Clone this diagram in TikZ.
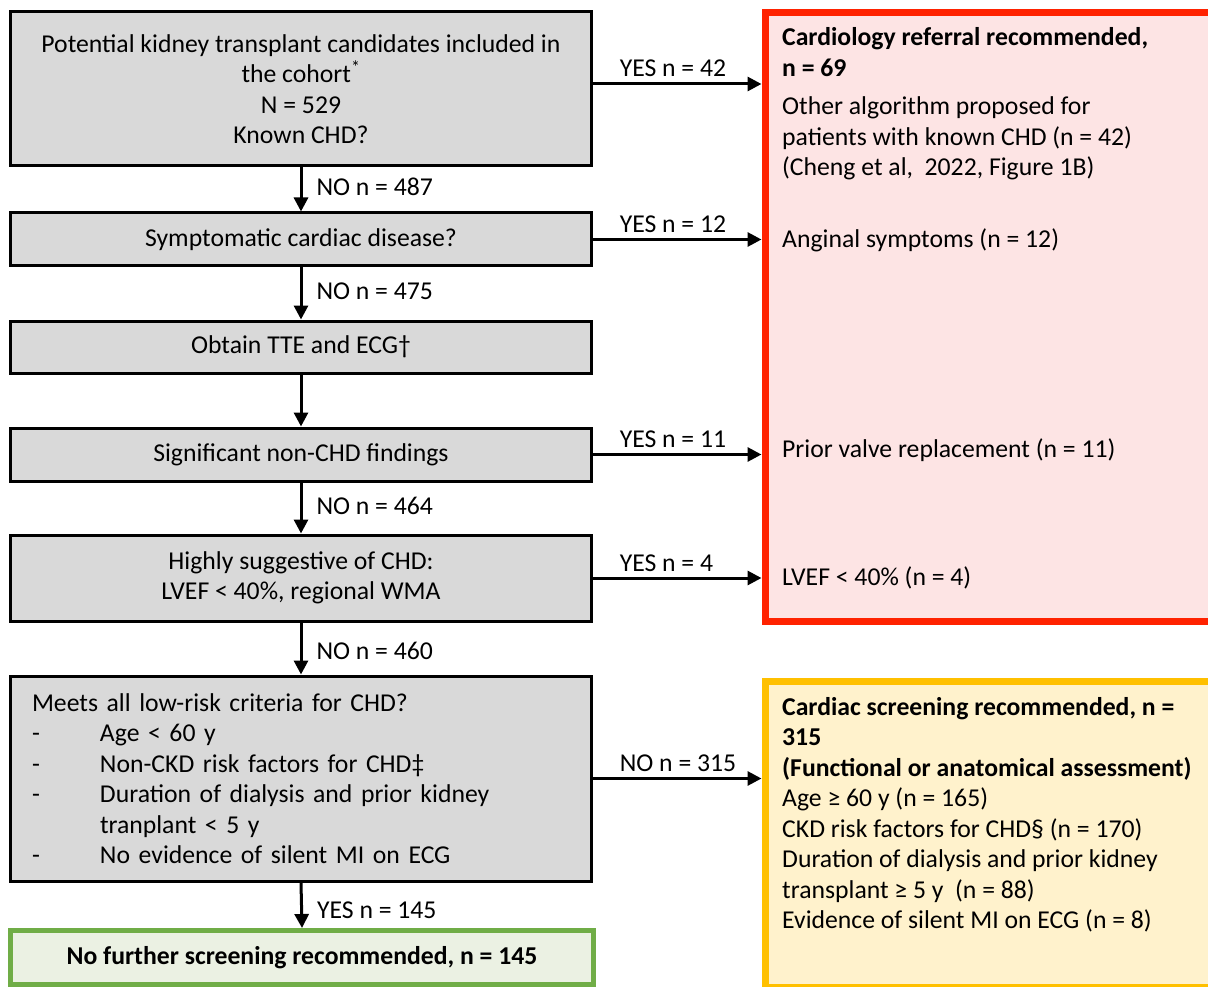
\documentclass[tikz,border=0pt]{standalone}
\usepackage{fontspec}
\setmainfont{Carlito}
\usetikzlibrary{arrows.meta}
\definecolor{boxgray}{HTML}{D9D9D9}
\definecolor{redline}{HTML}{FF2200}
\definecolor{redfill}{HTML}{FDE4E4}
\definecolor{yelline}{HTML}{FFC000}
\definecolor{yelfill}{HTML}{FFF2CC}
\definecolor{grnline}{HTML}{70AD47}
\definecolor{grnfill}{HTML}{EBF1E3}
\begin{document}
\begin{tikzpicture}[x=1pt,y=-1pt,
  every node/.style={font=\fontsize{25.7}{30.5}\selectfont},
  gbox/.style={draw=black, line width=3pt, fill=boxgray, minimum width=581pt, inner sep=0pt, align=center},
  rbox/.style={line width=7pt, minimum width=450pt, inner sep=0pt},
  rtext/.style={anchor=west, align=left, inner sep=0pt},
  lbl/.style={anchor=west, inner sep=0pt},
  arr/.style={line width=3pt, -{Triangle[length=14pt,width=14pt]}}]
\useasboundingbox (0,0) rectangle (1208,987);
\clip (0,0) rectangle (1208,987);
% left column
\node[gbox, minimum height=154pt] (b1) at (301,89) {Potential kidney transplant candidates included in\\the cohort\textsuperscript{*}\\N = 529\\Known CHD?};
\node[gbox, minimum height=53pt] (b2) at (301,239.5) {Symptomatic cardiac disease?};
\node[gbox, minimum height=52pt] (b3) at (301,347) {Obtain TTE and ECG†};
\node[gbox, minimum height=53pt] (b4) at (301,454.5) {Significant non-CHD findings};
\node[gbox, minimum height=86pt] (b5) at (301,578) {Highly suggestive of CHD:\\LVEF < 40\%, regional WMA};
\node[gbox, minimum height=205pt, text width=538pt, align=left] (b6) at (301,778.5) {Meets all low-risk criteria for CHD?\\
\makebox[68pt][l]{-}Age < 60 y\\
\makebox[68pt][l]{-}Non-CKD risk factors for CHD‡\\
\makebox[68pt][l]{-}Duration of dialysis and prior kidney\\
\hspace*{68pt}tranplant < 5 y\\
\makebox[68pt][l]{-}No evidence of silent MI on ECG};
\node[draw=grnline, fill=grnfill, line width=5pt, minimum width=583pt, minimum height=54pt, inner sep=0pt, font=\fontsize{25.7}{30.5}\selectfont\bfseries] (g) at (302,957.5) {No further screening recommended, n = 145};
% right column
\node[rbox, draw=redline, fill=redfill, minimum height=609pt] (red) at (990,317) {};
\node[rbox, draw=yelline, fill=yelfill, minimum height=306pt] (yel) at (990,834.5) {};
\node[rtext] (t1) at (782,104) {\textbf{Cardiology referral recommended,}\\\textbf{n = 69}\\[8pt]Other algorithm proposed for\\patients with known CHD (n = 42)\\(Cheng et al,\ \ 2022, Figure 1B)};
\node[rtext] (t2) at (782,240) {Anginal symptoms (n = 12)};
\node[rtext] (t3) at (782,450) {Prior valve replacement (n = 11)};
\node[rtext] (t4) at (782,578) {LVEF < 40\% (n = 4)};
\node[rtext] (t5) at (782,815) {\textbf{Cardiac screening recommended, n =}\\\textbf{315}\\\textbf{(Functional or anatomical assessment)}\\Age ≥ 60 y (n = 165)\\CKD risk factors for CHD§ (n = 170)\\Duration of dialysis and prior kidney\\transplant ≥ 5 y\ \ (n = 88)\\Evidence of silent MI on ECG (n = 8)};
% vertical arrows
\draw[arr] (b1.south) -- (b2.north) node[lbl, pos=0.45, xshift=14pt] (l1) {NO n = 487};
\draw[arr] (b2.south) -- (b3.north) node[lbl, pos=0.45, xshift=14pt] (l2) {NO n = 475};
\draw[arr] (b3.south) -- (b4.north);
\draw[arr] (b4.south) -- (b5.north) node[lbl, pos=0.45, xshift=14pt] (l3) {NO n = 464};
\draw[arr] (b5.south) -- (b6.north) node[lbl, pos=0.55, xshift=14pt] (l4) {NO n = 460};
\draw[arr] (b6.south) -- (g.north) node[lbl, pos=0.6, xshift=14pt] (l5) {YES n = 145};
% horizontal arrows
\draw[arr] ([yshift=5pt]b1.east) -- ([yshift=5pt]b1.east -| red.west) node[lbl, pos=0.15, anchor=base west, yshift=7pt] (y1) {YES n = 42};
\draw[arr] (b2.east) -- (b2.east -| red.west) node[lbl, pos=0.15, anchor=base west, yshift=7pt] (y2) {YES n = 12};
\draw[arr] (b4.east) -- (b4.east -| red.west) node[lbl, pos=0.15, anchor=base west, yshift=7pt] (y3) {YES n = 11};
\draw[arr] (b5.east) -- (b5.east -| red.west) node[lbl, pos=0.15, anchor=base west, yshift=7pt] (y4) {YES n = 4};
\draw[arr] (b6.east) -- (b6.east -| yel.west) node[lbl, pos=0.15, anchor=base west, yshift=7pt] (y5) {NO n = 315};
\end{tikzpicture}
\end{document}
